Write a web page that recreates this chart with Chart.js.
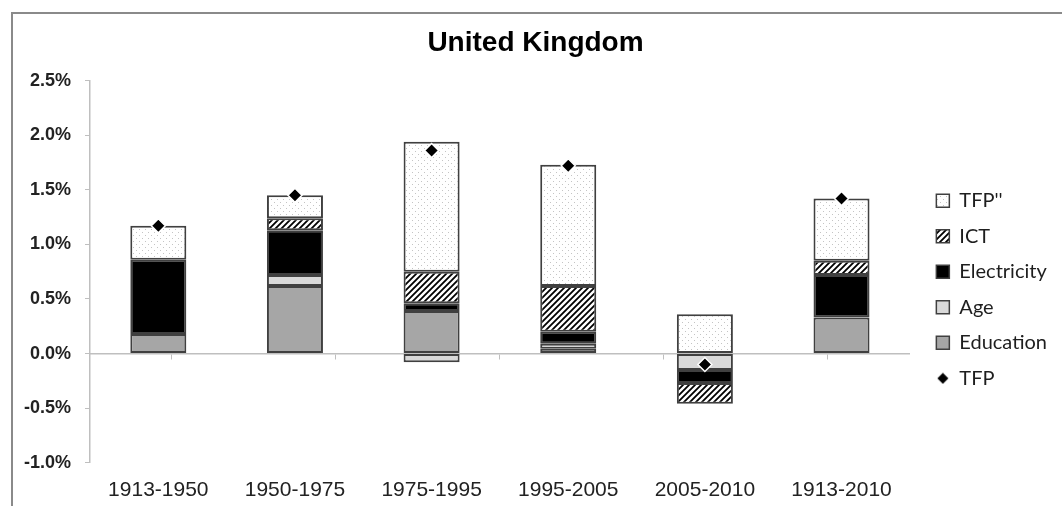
<!DOCTYPE html>
<html>
<head>
<meta charset="utf-8">
<script src="https://cdn.jsdelivr.net/npm/chart.js@4"></script>
<style>
  html, body { margin: 0; padding: 0; background: #fff; }
  #wrap { position: relative; width: 1062px; height: 506px; overflow: hidden; }
  #frame { position: absolute; left: 11px; top: 12px; right: -4px; bottom: -4px;
           border-top: 2px solid #8a8a8a; border-left: 2px solid #8a8a8a; pointer-events: none; }
</style>
</head>
<body>
<div id="wrap">
  <canvas id="chart" width="1062" height="506"></canvas>
  <div id="frame"></div>
</div>
<script>
// contributions to growth, percentage points per year
const periods = ['1913-1950', '1950-1975', '1975-1995', '1995-2005', '2005-2010', '1913-2010'];
const education = [0.18, 0.62, 0.39, 0.045, null, 0.33];
const age = [null, 0.10, -0.08, 0.045, -0.15, null];
const electricity = [0.68, 0.41, 0.07, 0.11, -0.12, 0.39];
const ict = [null, 0.11, 0.29, 0.42, -0.19, 0.13];
const tfpResidual = [0.31, 0.21, 1.19, 1.11, 0.36, 0.57];
const tfp = [1.17, 1.45, 1.86, 1.72, -0.10, 1.42];
const yTicks = [-1.0, -0.5, 0.0, 0.5, 1.0, 1.5, 2.0, 2.5];

const legendOrder = ["TFP''", 'ICT', 'Electricity', 'Age', 'Education', 'TFP'];

function makePattern(size, draw) {
    const c = document.createElement('canvas');
    c.width = size;
    c.height = size;
    const g = c.getContext('2d');
    g.fillStyle = '#fff';
    g.fillRect(0, 0, size, size);
    draw(g);
    return document.getElementById('chart').getContext('2d').createPattern(c, 'repeat');
}

// light dotted fill for the residual
const dots = makePattern(6, g => {
    g.fillStyle = '#c4c4c4';
    g.fillRect(1, 1, 1, 1);
    g.fillRect(4, 4, 1, 1);
});

// forward diagonal hatch for ICT
const hatch = makePattern(6, g => {
    g.strokeStyle = '#000';
    g.lineWidth = 1.8;
    g.beginPath();
    g.moveTo(-1, 7); g.lineTo(7, -1);
    g.moveTo(-4, 4); g.lineTo(4, -4);
    g.moveTo(2, 10); g.lineTo(10, 2);
    g.stroke();
});

// small diamond for the legend
const diamond = document.createElement('canvas');
diamond.width = 12;
diamond.height = 12;
(function() {
    const g = diamond.getContext('2d');
    g.fillStyle = '#000';
    g.beginPath();
    g.moveTo(6, 0.5); g.lineTo(11.5, 6); g.lineTo(6, 11.5); g.lineTo(0.5, 6);
    g.closePath();
    g.fill();
})();

const barStyle = {
    type: 'bar',
    borderColor: '#404040',
    borderWidth: 2,
    borderSkipped: false,
    barPercentage: 0.41,
    categoryPercentage: 1.0,
    stack: 'parts'
};

const datasets = [
    Object.assign({label: 'Education', data: education, backgroundColor: '#a6a6a6'}, barStyle),
    Object.assign({label: 'Age', data: age, backgroundColor: '#d9d9d9'}, barStyle),
    Object.assign({label: 'Electricity', data: electricity, backgroundColor: '#000000'}, barStyle),
    Object.assign({label: 'ICT', data: ict, backgroundColor: hatch}, barStyle),
    Object.assign({label: "TFP''", data: tfpResidual, backgroundColor: dots}, barStyle),
    {
        type: 'line',
        label: 'TFP',
        data: tfp,
        showLine: false,
        stack: 'tfp',
        order: -1,
        pointStyle: 'rectRot',
        pointRadius: 7,
        pointHoverRadius: 7,
        pointBackgroundColor: '#000',
        pointBorderColor: '#fff',
        pointBorderWidth: 1.5,
        backgroundColor: '#000',
        borderColor: '#fff'
    }
];

const axisGrey = '#bfbfbf';

new Chart(document.getElementById('chart'), {
    data: { labels: periods, datasets: datasets },
    options: {
        responsive: false,
        animation: false,
        layout: { padding: { left: 14, right: 5, top: 16, bottom: -12 } },
        plugins: {
            title: {
                display: true,
                text: 'United Kingdom',
                color: '#000',
                font: { family: 'Liberation Sans', size: 28, weight: 'bold' },
                padding: { top: 10, bottom: 21 }
            },
            legend: {
                position: 'right',
                title: { display: true, text: '', font: { size: 1 }, padding: { top: 44, bottom: 0 } },
                labels: {
                    usePointStyle: true,
                    boxWidth: 13,
                    boxHeight: 13,
                    padding: 15.5,
                    color: '#1e1e1e',
                    font: { family: 'Lato', size: 20 },
                    generateLabels: function(chart) {
                        const items = Chart.defaults.plugins.legend.labels.generateLabels(chart);
                        items.forEach(it => {
                            if (it.text === 'TFP') {
                                it.pointStyle = diamond;
                            } else {
                                it.pointStyle = 'rect';
                                it.strokeStyle = '#404040';
                                it.lineWidth = 1.5;
                            }
                        });
                        return items;
                    },
                    sort: (a, b) => legendOrder.indexOf(a.text) - legendOrder.indexOf(b.text)
                }
            },
            tooltip: { enabled: false }
        },
        scales: {
            x: {
                stacked: true,
                grid: { display: false, drawTicks: false },
                border: { display: false },
                ticks: {
                    padding: 15,
                    color: '#222',
                    font: { family: 'Liberation Sans', size: 21 }
                }
            },
            x2: {
                type: 'category',
                labels: periods,
                position: { y: 0 },
                afterFit: s => { s.height = 0; },
                grid: { drawOnChartArea: false, offset: true, tickLength: 5, color: axisGrey },
                border: { color: axisGrey, width: 1.5 },
                ticks: { display: false }
            },
            y: {
                stacked: true,
                min: -1,
                max: 2.5,
                afterFit: s => { s.width = 76; },
                afterBuildTicks: s => { s.ticks = yTicks.map(v => ({ value: v })); },
                grid: { drawOnChartArea: false, tickLength: 5, color: axisGrey },
                border: { color: axisGrey, width: 1.5 },
                ticks: {
                    padding: 14,
                    color: '#222',
                    font: { family: 'Liberation Sans', size: 18, weight: 'bold' },
                    callback: v => v.toFixed(1) + '%'
                }
            },
            gap: {
                type: 'linear',
                position: 'right',
                grid: { display: false, drawTicks: false },
                border: { display: false },
                ticks: { display: false },
                afterFit: s => { s.width = 11; }
            }
        }
    }
});
</script>
</body>
</html>
